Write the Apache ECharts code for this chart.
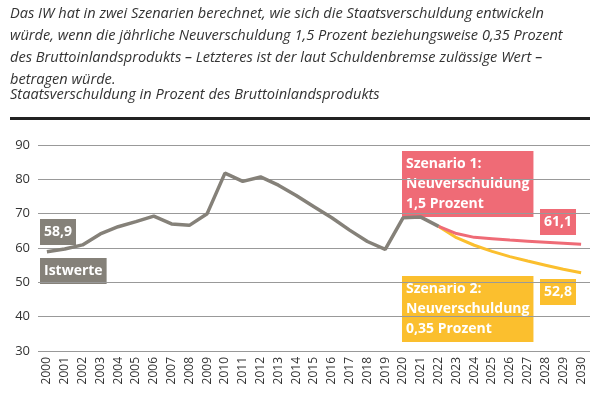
<!DOCTYPE html><html><head><meta charset="utf-8"><script src="https://cdn.jsdelivr.net/npm/echarts@6/dist/echarts.min.js"></script></head><body style="margin:0"><div id="c" style="width:600px;height:400px"></div><script>
const years=[];for(let y=2000;y<=2030;y++)years.push(String(y));
const istwerte=[58.9,59.7,60.9,64.1,66.2,67.7,69.3,67.0,66.6,70.0,81.8,79.4,80.7,78.3,75.3,72.0,68.8,65.2,61.9,59.6,68.8,69.0,66.3];
const szenario1=[66.3,64.2,63.1,62.7,62.3,62.0,61.7,61.4,61.1];
const szenario2=[66.3,63.0,60.8,59.0,57.5,56.2,55.0,53.8,52.8];
const pad=(arr,start)=>years.map((y,i)=>i>=start&&i<start+arr.length?arr[i-start]:null);
const font='"Open Sans", sans-serif';
const box=(x,y,text,bg)=>({type:'text',left:x,top:y,style:{text,fill:'#fff',font:'bold 14px '+font,backgroundColor:bg,padding:[3,4],lineHeight:20}});
const ch=echarts.init(document.getElementById('c'));
ch.setOption({
 animation:false,
 grid:{left:38,right:10,top:145,bottom:49},
 xAxis:{type:'category',data:years,boundaryGap:true,axisTick:{show:false},axisLine:{show:false},axisLabel:{rotate:90,color:'#333',fontSize:12,fontFamily:font,interval:0,margin:6}},
 yAxis:{type:'value',min:30,max:90,interval:10,axisLabel:{color:'#333',fontSize:13,fontFamily:font,margin:8},splitLine:{lineStyle:{color:'#999',width:1}}},
 series:[
  {type:'line',data:pad(szenario2,22),symbol:'none',lineStyle:{color:'#fbbf2e',width:3},z:2},
  {type:'line',data:pad(szenario1,22),symbol:'none',lineStyle:{color:'#ef6b76',width:3},z:3},
  {type:'line',data:pad(istwerte,0),symbol:'none',lineStyle:{color:'#858179',width:3.5},z:4}
 ],
 graphic:[
  {type:'text',left:10,top:3,style:{text:'Das IW hat in zwei Szenarien berechnet, wie sich die Staatsverschuldung entwickeln\nwürde, wenn die jährliche Neuverschuldung 1,5 Prozent beziehungsweise 0,35 Prozent\ndes Bruttoinlandsprodukts – Letzteres ist der laut Schuldenbremse zulässige Wert –\nbetragen würde.',fill:'#333',font:'italic 14.6px '+font,lineHeight:22}},
  {type:'text',left:10,top:87,style:{text:'Staatsverschuldung in Prozent des Bruttoinlandsprodukts',fill:'#333',font:'italic 14.6px '+font}},
  {type:'rect',shape:{x:10,y:117,width:580,height:3},style:{fill:'#222'}},
  box(40,219,'58,9','#858179'),
  box(40,258,'Istwerte','#858179'),
  box(402,151,'Szenario 1:\nNeuverschuldung\n1,5 Prozent','#ef6b76'),
  box(540,209,'61,1','#ef6b76'),
  box(402,276,'Szenario 2:\nNeuverschuldung\n0,35 Prozent','#fbbf2e'),
  box(540,279,'52,8','#fbbf2e')
 ]
});
</script></body></html>
